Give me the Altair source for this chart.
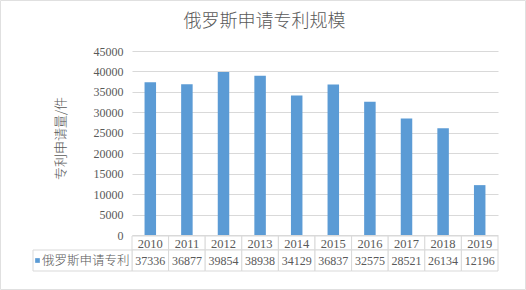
import altair as alt
import pandas as pd

# ---- data ----
years = ["2010", "2011", "2012", "2013", "2014", "2015", "2016", "2017", "2018", "2019"]
values = [37336, 36877, 39854, 38938, 34129, 36837, 32575, 28521, 26134, 12196]
series_name = "俄罗斯申请专利"
title_text = "俄罗斯申请专利规模"
y_title = "专利申请量/件"
y_ticks = [0, 5000, 10000, 15000, 20000, 25000, 30000, 35000, 40000, 45000]

df = pd.DataFrame({"Year": years, "Value": values})
one = pd.DataFrame({"label": [series_name], "title": [title_text]})

# ---- layout ----
PL, PT = 132, 51
W, H = 366, 184
TOTAL_W, TOTAL_H = 526, 290
GREY = "#595959"
LINE = "#d9d9d9"
BLUE = "#5B9BD5"
SERIF = "Liberation Serif"
CJK = "Noto Sans CJK SC"

x_scale = alt.Scale(domain=years, paddingInner=0, paddingOuter=0)
x_enc = alt.X("Year:N", sort=years, axis=None, scale=x_scale)

bars = alt.Chart(df).mark_bar(size=11.5, color=BLUE).encode(
    x=x_enc,
    y=alt.Y(
        "Value:Q",
        scale=alt.Scale(domain=[0, 45000], nice=False),
        axis=alt.Axis(
            values=y_ticks,
            format="d",
            title=y_title,
            titleX=-72,
            titleY=87,
            titleAngle=270,
            titleAlign="center",
            titleBaseline="middle",
            titleFont=CJK,
            titleFontSize=13,
            titleFontWeight=300,
            titleColor=GREY,
            labelFont=SERIF,
            labelFontSize=12,
            labelColor=GREY,
            labelPadding=9,
            ticks=False,
            domain=False,
            grid=True,
            gridColor=LINE,
            gridWidth=1,
        ),
    ),
)

t_top, t_mid, t_bot = H + 1, H + 15, H + 36

cells_year = alt.Chart(df).mark_rect(fill="white", stroke=LINE, strokeWidth=1).encode(
    x=x_enc, y=alt.value(t_top), y2=alt.value(t_mid)
)
cells_val = alt.Chart(df).mark_rect(fill="white", stroke=LINE, strokeWidth=1).encode(
    x=x_enc, y=alt.value(t_mid), y2=alt.value(t_bot)
)
txt_year = alt.Chart(df).mark_text(font=SERIF, fontSize=12.5, color=GREY, baseline="middle").encode(
    x=x_enc, y=alt.value((t_top + t_mid) / 2 + 0.5), text="Year:N"
)
txt_val = alt.Chart(df).mark_text(font=SERIF, fontSize=12, color=GREY, baseline="middle").encode(
    x=x_enc, y=alt.value((t_mid + t_bot) / 2), text=alt.Text("Value:Q", format="d")
)

label_cell = alt.Chart(one).mark_rect(fill="white", stroke=LINE, strokeWidth=1).encode(
    x=alt.value(33 - PL), x2=alt.value(0), y=alt.value(t_mid), y2=alt.value(t_bot)
)
legend_sq = alt.Chart(one).mark_square(size=22, color=BLUE, opacity=1).encode(
    x=alt.value(37.5 - PL), y=alt.value((t_mid + t_bot) / 2)
)
label_txt = alt.Chart(one).mark_text(font=CJK, fontSize=12.5, fontWeight=300, color=GREY, align="left", baseline="middle").encode(
    x=alt.value(42 - PL), y=alt.value((t_mid + t_bot) / 2), text="label:N"
)

title = alt.Chart(one).mark_text(font=CJK, fontSize=18, fontWeight=300, color=GREY, align="center", baseline="middle").encode(
    x=alt.value(264.5 - PL), y=alt.value(21.5 - PT), text="title:N"
)

frame = alt.Chart(one).mark_rect(fill=None, stroke="#e0e0e0", strokeWidth=1).encode(
    x=alt.value(0.5 - PL), x2=alt.value(TOTAL_W - 0.5 - PL),
    y=alt.value(0.5 - PT), y2=alt.value(TOTAL_H - 0.5 - PT),
)

chart = alt.layer(
    bars, cells_year, cells_val, txt_year, txt_val, label_cell, legend_sq, label_txt, title, frame
).properties(
    width=W,
    height=H,
    autosize=alt.AutoSizeParams(type="none"),
    padding={"left": PL, "top": PT, "right": TOTAL_W - PL - W, "bottom": TOTAL_H - PT - H},
    background="white",
).configure_view(stroke=None)

chart.save("out.html", embed_options={"renderer": "svg", "actions": False})
